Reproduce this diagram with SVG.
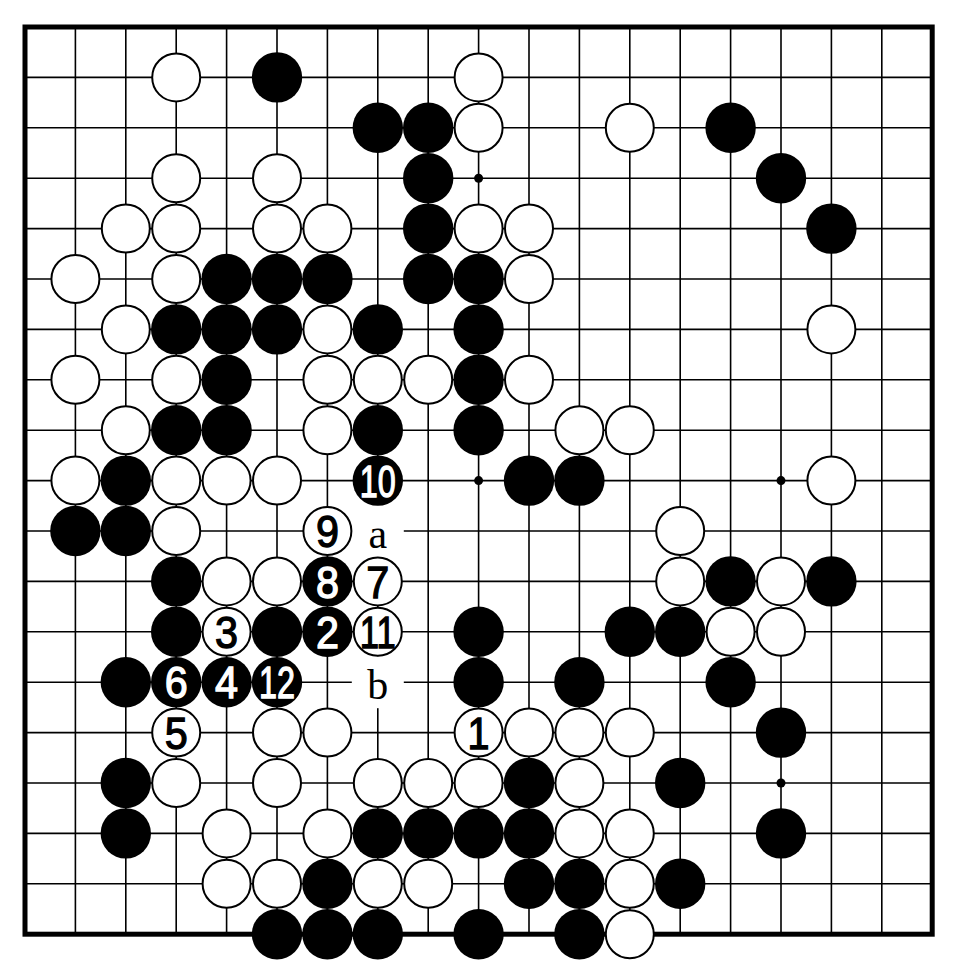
<svg xmlns="http://www.w3.org/2000/svg" width="960" height="962" viewBox="0 0 960 962">
<style>
.grid{fill:none;stroke:#000;stroke-width:1.6}
.edge{fill:none;stroke:#000;stroke-width:5}
.star{fill:#000}
.w{fill:#fff;stroke:#000;stroke-width:2}
.b{fill:#000}
.bg{fill:#fff}
.num{font-family:"Liberation Sans",Arial,sans-serif;font-size:45px;font-weight:normal;text-anchor:middle;stroke-width:1.3}
.on-w{fill:#000;stroke:#000}
.on-b{fill:#fff;stroke:#fff}
.let{font-family:"Liberation Serif","Times New Roman",serif;font-size:42px;text-anchor:middle;fill:#000}
</style>
<rect x="0" y="0" width="960" height="962" fill="#fff"/>
<g id="board">
<path class="grid" d="M75.4 27V934.2M125.8 27V934.2M176.2 27V934.2M226.6 27V934.2M277 27V934.2M327.4 27V934.2M377.8 27V934.2M428.2 27V934.2M478.6 27V934.2M529 27V934.2M579.4 27V934.2M629.8 27V934.2M680.2 27V934.2M730.6 27V934.2M781 27V934.2M831.4 27V934.2M881.8 27V934.2M25 77.4H932.2M25 127.8H932.2M25 178.2H932.2M25 228.6H932.2M25 279H932.2M25 329.4H932.2M25 379.8H932.2M25 430.2H932.2M25 480.6H932.2M25 531H932.2M25 581.4H932.2M25 631.8H932.2M25 682.2H932.2M25 732.6H932.2M25 783H932.2M25 833.4H932.2M25 883.8H932.2"/>
<rect class="edge" x="25" y="27" width="907.2" height="907.2"/>
<circle class="star" cx="478.6" cy="178.2" r="4.5"/>
<circle class="star" cx="478.6" cy="480.6" r="4.5"/>
<circle class="star" cx="781" cy="480.6" r="4.5"/>
<circle class="star" cx="781" cy="783" r="4.5"/>
</g>
<g id="label-a"><rect class="bg" x="351.8" y="505" width="52" height="52"/><text class="let" x="377.8" y="548">a</text></g>
<g id="label-b"><rect class="bg" x="351.8" y="656.2" width="52" height="52"/><text class="let" x="377.8" y="699">b</text></g>
<g id="stones">
<circle class="w" cx="176.2" cy="77.4" r="24"/><circle class="b" cx="277" cy="77.4" r="25.2"/><circle class="w" cx="478.6" cy="77.4" r="24"/>
<circle class="b" cx="377.8" cy="127.8" r="25.2"/><circle class="b" cx="428.2" cy="127.8" r="25.2"/><circle class="w" cx="478.6" cy="127.8" r="24"/><circle class="w" cx="629.8" cy="127.8" r="24"/><circle class="b" cx="730.6" cy="127.8" r="25.2"/>
<circle class="w" cx="176.2" cy="178.2" r="24"/><circle class="w" cx="277" cy="178.2" r="24"/><circle class="b" cx="428.2" cy="178.2" r="25.2"/><circle class="b" cx="781" cy="178.2" r="25.2"/>
<circle class="w" cx="125.8" cy="228.6" r="24"/><circle class="w" cx="176.2" cy="228.6" r="24"/><circle class="w" cx="277" cy="228.6" r="24"/><circle class="w" cx="327.4" cy="228.6" r="24"/><circle class="b" cx="428.2" cy="228.6" r="25.2"/><circle class="w" cx="478.6" cy="228.6" r="24"/><circle class="w" cx="529" cy="228.6" r="24"/><circle class="b" cx="831.4" cy="228.6" r="25.2"/>
<circle class="w" cx="75.4" cy="279" r="24"/><circle class="w" cx="176.2" cy="279" r="24"/><circle class="b" cx="226.6" cy="279" r="25.2"/><circle class="b" cx="277" cy="279" r="25.2"/><circle class="b" cx="327.4" cy="279" r="25.2"/><circle class="b" cx="428.2" cy="279" r="25.2"/><circle class="b" cx="478.6" cy="279" r="25.2"/><circle class="w" cx="529" cy="279" r="24"/>
<circle class="w" cx="125.8" cy="329.4" r="24"/><circle class="b" cx="176.2" cy="329.4" r="25.2"/><circle class="b" cx="226.6" cy="329.4" r="25.2"/><circle class="b" cx="277" cy="329.4" r="25.2"/><circle class="w" cx="327.4" cy="329.4" r="24"/><circle class="b" cx="377.8" cy="329.4" r="25.2"/><circle class="b" cx="478.6" cy="329.4" r="25.2"/><circle class="w" cx="831.4" cy="329.4" r="24"/>
<circle class="w" cx="75.4" cy="379.8" r="24"/><circle class="w" cx="176.2" cy="379.8" r="24"/><circle class="b" cx="226.6" cy="379.8" r="25.2"/><circle class="w" cx="327.4" cy="379.8" r="24"/><circle class="w" cx="377.8" cy="379.8" r="24"/><circle class="w" cx="428.2" cy="379.8" r="24"/><circle class="b" cx="478.6" cy="379.8" r="25.2"/><circle class="w" cx="529" cy="379.8" r="24"/>
<circle class="w" cx="125.8" cy="430.2" r="24"/><circle class="b" cx="176.2" cy="430.2" r="25.2"/><circle class="b" cx="226.6" cy="430.2" r="25.2"/><circle class="w" cx="327.4" cy="430.2" r="24"/><circle class="b" cx="377.8" cy="430.2" r="25.2"/><circle class="b" cx="478.6" cy="430.2" r="25.2"/><circle class="w" cx="579.4" cy="430.2" r="24"/><circle class="w" cx="629.8" cy="430.2" r="24"/>
<circle class="w" cx="75.4" cy="480.6" r="24"/><circle class="b" cx="125.8" cy="480.6" r="25.2"/><circle class="w" cx="176.2" cy="480.6" r="24"/><circle class="w" cx="226.6" cy="480.6" r="24"/><circle class="w" cx="277" cy="480.6" r="24"/><circle class="b" cx="529" cy="480.6" r="25.2"/><circle class="b" cx="579.4" cy="480.6" r="25.2"/><circle class="w" cx="831.4" cy="480.6" r="24"/>
<circle class="b" cx="75.4" cy="531" r="25.2"/><circle class="b" cx="125.8" cy="531" r="25.2"/><circle class="w" cx="176.2" cy="531" r="24"/><circle class="w" cx="680.2" cy="531" r="24"/>
<circle class="b" cx="176.2" cy="581.4" r="25.2"/><circle class="w" cx="226.6" cy="581.4" r="24"/><circle class="w" cx="277" cy="581.4" r="24"/><circle class="w" cx="680.2" cy="581.4" r="24"/><circle class="b" cx="730.6" cy="581.4" r="25.2"/><circle class="w" cx="781" cy="581.4" r="24"/><circle class="b" cx="831.4" cy="581.4" r="25.2"/>
<circle class="b" cx="176.2" cy="631.8" r="25.2"/><circle class="b" cx="277" cy="631.8" r="25.2"/><circle class="b" cx="478.6" cy="631.8" r="25.2"/><circle class="b" cx="629.8" cy="631.8" r="25.2"/><circle class="b" cx="680.2" cy="631.8" r="25.2"/><circle class="w" cx="730.6" cy="631.8" r="24"/><circle class="w" cx="781" cy="631.8" r="24"/>
<circle class="b" cx="125.8" cy="682.2" r="25.2"/><circle class="b" cx="478.6" cy="682.2" r="25.2"/><circle class="b" cx="579.4" cy="682.2" r="25.2"/><circle class="b" cx="730.6" cy="682.2" r="25.2"/>
<circle class="w" cx="277" cy="732.6" r="24"/><circle class="w" cx="327.4" cy="732.6" r="24"/><circle class="w" cx="529" cy="732.6" r="24"/><circle class="w" cx="579.4" cy="732.6" r="24"/><circle class="w" cx="629.8" cy="732.6" r="24"/><circle class="b" cx="781" cy="732.6" r="25.2"/>
<circle class="b" cx="125.8" cy="783" r="25.2"/><circle class="w" cx="176.2" cy="783" r="24"/><circle class="w" cx="277" cy="783" r="24"/><circle class="w" cx="377.8" cy="783" r="24"/><circle class="w" cx="428.2" cy="783" r="24"/><circle class="w" cx="478.6" cy="783" r="24"/><circle class="b" cx="529" cy="783" r="25.2"/><circle class="w" cx="579.4" cy="783" r="24"/><circle class="b" cx="680.2" cy="783" r="25.2"/>
<circle class="b" cx="125.8" cy="833.4" r="25.2"/><circle class="w" cx="226.6" cy="833.4" r="24"/><circle class="w" cx="327.4" cy="833.4" r="24"/><circle class="b" cx="377.8" cy="833.4" r="25.2"/><circle class="b" cx="428.2" cy="833.4" r="25.2"/><circle class="b" cx="478.6" cy="833.4" r="25.2"/><circle class="b" cx="529" cy="833.4" r="25.2"/><circle class="w" cx="579.4" cy="833.4" r="24"/><circle class="w" cx="629.8" cy="833.4" r="24"/><circle class="b" cx="781" cy="833.4" r="25.2"/>
<circle class="w" cx="226.6" cy="883.8" r="24"/><circle class="w" cx="277" cy="883.8" r="24"/><circle class="b" cx="327.4" cy="883.8" r="25.2"/><circle class="w" cx="377.8" cy="883.8" r="24"/><circle class="w" cx="428.2" cy="883.8" r="24"/><circle class="b" cx="529" cy="883.8" r="25.2"/><circle class="b" cx="579.4" cy="883.8" r="25.2"/><circle class="w" cx="629.8" cy="883.8" r="24"/><circle class="b" cx="680.2" cy="883.8" r="25.2"/>
<circle class="b" cx="277" cy="934.2" r="25.2"/><circle class="b" cx="327.4" cy="934.2" r="25.2"/><circle class="b" cx="377.8" cy="934.2" r="25.2"/><circle class="b" cx="478.6" cy="934.2" r="25.2"/><circle class="b" cx="579.4" cy="934.2" r="25.2"/><circle class="w" cx="629.8" cy="934.2" r="24"/>
</g>
<g id="move-1"><circle class="w" cx="478.6" cy="732.6" r="24"/><text class="num on-w" x="478.6" y="748.7" textLength="22" lengthAdjust="spacingAndGlyphs">1</text></g>
<g id="move-2"><circle class="b" cx="327.4" cy="631.8" r="25.2"/><text class="num on-b" x="327.4" y="647.9" textLength="23" lengthAdjust="spacingAndGlyphs">2</text></g>
<g id="move-3"><circle class="w" cx="226.6" cy="631.8" r="24"/><text class="num on-w" x="226.6" y="647.9" textLength="23" lengthAdjust="spacingAndGlyphs">3</text></g>
<g id="move-4"><circle class="b" cx="226.6" cy="682.2" r="25.2"/><text class="num on-b" x="226.6" y="698.3" textLength="23" lengthAdjust="spacingAndGlyphs">4</text></g>
<g id="move-5"><circle class="w" cx="176.2" cy="732.6" r="24"/><text class="num on-w" x="176.2" y="748.7" textLength="23" lengthAdjust="spacingAndGlyphs">5</text></g>
<g id="move-6"><circle class="b" cx="176.2" cy="682.2" r="25.2"/><text class="num on-b" x="176.2" y="698.3" textLength="23" lengthAdjust="spacingAndGlyphs">6</text></g>
<g id="move-7"><circle class="w" cx="377.8" cy="581.4" r="24"/><text class="num on-w" x="377.8" y="597.5" textLength="23" lengthAdjust="spacingAndGlyphs">7</text></g>
<g id="move-8"><circle class="b" cx="327.4" cy="581.4" r="25.2"/><text class="num on-b" x="327.4" y="597.5" textLength="23" lengthAdjust="spacingAndGlyphs">8</text></g>
<g id="move-9"><circle class="w" cx="327.4" cy="531" r="24"/><text class="num on-w" x="327.4" y="547.1" textLength="23" lengthAdjust="spacingAndGlyphs">9</text></g>
<g id="move-10"><circle class="b" cx="377.8" cy="480.6" r="25.2"/><text class="num on-b" x="377.8" y="496.7" textLength="36" lengthAdjust="spacingAndGlyphs">10</text></g>
<g id="move-11"><circle class="w" cx="377.8" cy="631.8" r="24"/><text class="num on-w" x="377.8" y="647.9" textLength="36" lengthAdjust="spacingAndGlyphs">11</text></g>
<g id="move-12"><circle class="b" cx="277" cy="682.2" r="25.2"/><text class="num on-b" x="277" y="698.3" textLength="36" lengthAdjust="spacingAndGlyphs">12</text></g>
</svg>
